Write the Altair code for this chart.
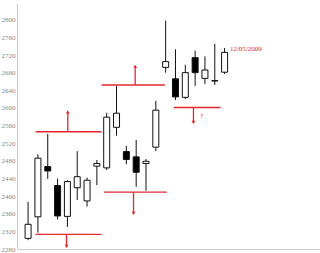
import altair as alt
import pandas as pd

# Daily OHLC candles
opens  = [2304, 2353, 2467, 2424, 2354, 2419, 2389, 2468, 2464, 2556, 2501, 2489, 2474, 2511,
          2692, 2666, 2624, 2714, 2667, 2661, 2681]
highs  = [2387, 2495, 2541, 2440, 2436, 2502, 2442, 2482, 2589, 2650, 2514, 2527, 2484, 2616,
          2798, 2733, 2698, 2730, 2717, 2745, 2736]
lows   = [2300, 2317, 2439, 2347, 2330, 2391, 2376, 2425, 2459, 2537, 2472, 2421, 2412, 2502,
          2680, 2618, 2620, 2650, 2654, 2652, 2677]
closes = [2336, 2486, 2457, 2355, 2433, 2444, 2436, 2474, 2579, 2588, 2483, 2454, 2479, 2595,
          2705, 2625, 2680, 2680, 2686, 2662, 2726]

# Support / resistance levels (start index, end index, price)
level_start = [0.76, 0.76, 7.48, 7.72, 14.83]
level_end   = [7.48, 7.48, 13.95, 14.11, 19.59]
level_price = [2546, 2313, 2652, 2409, 2601]

# Breakout arrows (index, from price, to price)
arrow_x    = [4.04, 3.91, 10.9, 10.73, 16.83]
arrow_from = [2546, 2313, 2652, 2409, 2601]
arrow_to   = [2591, 2286, 2694, 2361, 2567]

# Annotations
note_x     = [17.49, 20.54]
note_price = [2582, 2733]
note_text  = ["?", "12/05/2009"]

y_ticks = list(range(2280, 2801, 40))
RED = "#e4262f"

candles = pd.DataFrame({
    "i": list(range(len(opens))),
    "open": opens, "high": highs, "low": lows, "close": closes,
})
candles["dir"] = ["up" if c >= o else "down" for o, c in zip(opens, closes)]

levels = pd.DataFrame({"x1": level_start, "x2": level_end, "p": level_price})
arrows = pd.DataFrame({"x": arrow_x, "p0": arrow_from, "p1": arrow_to})
arrows["shape"] = ["triangle-up" if b > a else "triangle-down" for a, b in zip(arrow_from, arrow_to)]
notes = pd.DataFrame({"x": note_x, "p": note_price, "t": note_text})

xs = alt.Scale(domain=[-0.62, 29.2], nice=False, zero=False)
ys = alt.Scale(domain=[2280, 2838], nice=False, zero=False)

y_axis = alt.Axis(values=y_ticks, format="d", title=None, grid=False, ticks=False, tickSize=0,
                  labelFontSize=7, labelColor="#888888", labelFont="Liberation Sans Narrow",
                  labelPadding=2, domainColor="#cccccc", labelFlush=False, labelOverlap=False)
x_axis = alt.Axis(labels=False, ticks=False, title=None, grid=False, domainColor="#cccccc")

base = alt.Chart(candles)

wicks = base.mark_rule(color="#111111", strokeWidth=1).encode(
    x=alt.X("i:Q", scale=xs, axis=x_axis),
    y=alt.Y("low:Q", scale=ys, axis=y_axis),
    y2="high:Q",
)

bodies = base.mark_bar(width=6, stroke="#111111", strokeWidth=1).encode(
    x=alt.X("i:Q", scale=xs, axis=x_axis),
    y=alt.Y("open:Q", scale=ys, axis=y_axis),
    y2="close:Q",
    fill=alt.Fill("dir:N", scale=alt.Scale(domain=["up", "down"], range=["#ffffff", "#000000"]),
                  legend=None),
)

level_lines = alt.Chart(levels).mark_rule(color=RED, strokeWidth=1.3, opacity=1).encode(
    x=alt.X("x1:Q", scale=xs, axis=x_axis), x2="x2:Q",
    y=alt.Y("p:Q", scale=ys, axis=y_axis),
)

arrow_shafts = alt.Chart(arrows).mark_rule(color=RED, strokeWidth=1.3, opacity=1).encode(
    x=alt.X("x:Q", scale=xs, axis=x_axis),
    y=alt.Y("p0:Q", scale=ys, axis=y_axis), y2="p1:Q",
)

arrow_heads = alt.Chart(arrows).mark_point(filled=True, color=RED, size=14, opacity=1).encode(
    x=alt.X("x:Q", scale=xs, axis=x_axis),
    y=alt.Y("p1:Q", scale=ys, axis=y_axis),
    shape=alt.Shape("shape:N", scale=None, legend=None),
)

note_marks = alt.Chart(notes).mark_text(align="left", baseline="middle", color=RED,
                                        fontSize=7, font="Liberation Sans Narrow").encode(
    x=alt.X("x:Q", scale=xs, axis=x_axis),
    y=alt.Y("p:Q", scale=ys, axis=y_axis),
    text="t:N",
)

chart = alt.layer(level_lines, arrow_shafts, arrow_heads, wicks, bodies, note_marks).properties(
    width=303, height=246,
    padding={"left": 17, "top": 3, "right": 0, "bottom": 4},
    autosize="none",
    background="#ffffff",
).configure_view(stroke=None).configure_axisY(labelOverlap=False, labelSeparation=0)

chart.save("out.html", embed_options={"renderer": "svg", "actions": False})
